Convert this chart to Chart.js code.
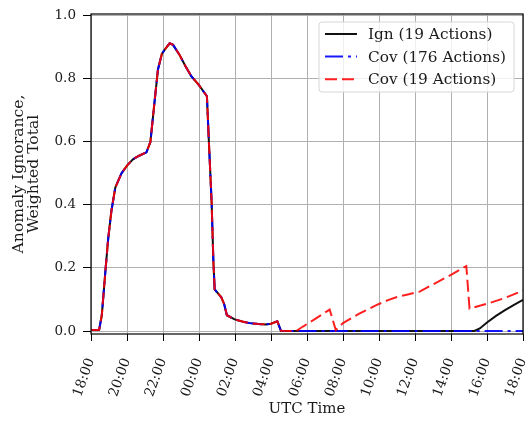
<!DOCTYPE html>
<html>
<head>
<meta charset="utf-8">
<script src="https://cdn.jsdelivr.net/npm/chart.js@4/dist/chart.umd.min.js"></script>
<style>
  html, body { margin: 0; padding: 0; background: #fff; }
  #wrap { width: 532px; height: 421px; position: relative; }
</style>
</head>
<body>
<div id="wrap"><canvas id="c" width="532" height="421"></canvas></div>
<script>
// Hours since 18:00 UTC (x) and weighted totals (y)
const seriesLabels = ['Ign (19 Actions)', 'Cov (176 Actions)', 'Cov (19 Actions)'];
const xTickLabels = ['18:00','20:00','22:00','00:00','02:00','04:00','06:00','08:00','10:00','12:00','14:00','16:00','18:00'];
const yTickValues = [0.0, 0.2, 0.4, 0.6, 0.8, 1.0];

// shared evening/night portion (identical for all three runs)
const sharedTimes  = [0, 0.45, 0.6, 0.8, 0.95, 1.13, 1.35, 1.69, 2.0, 2.33, 2.7, 3.08, 3.3, 3.54, 3.72, 3.94, 4.15, 4.37, 4.56, 4.93, 5.25, 5.58, 6.0, 6.44, 6.55, 6.7, 6.8, 6.87, 7.24, 7.4, 7.55, 7.98, 8.4, 8.82, 9.3, 9.7, 10.0, 10.35, 10.55];
const sharedValues = [0.003, 0.003, 0.05, 0.19, 0.29, 0.38, 0.455, 0.50, 0.525, 0.545, 0.557, 0.567, 0.60, 0.733, 0.83, 0.88, 0.897, 0.913, 0.908, 0.875, 0.84, 0.808, 0.78, 0.745, 0.60, 0.41, 0.22, 0.132, 0.107, 0.085, 0.05, 0.037, 0.03, 0.025, 0.022, 0.021, 0.023, 0.031, 0.001];

// later portions
const ignTimes   = [11.0, 14.0, 17.0, 20.0, 21.3, 21.6, 22.0, 22.5, 23.0, 23.5, 24.0];
const ignValues  = [0.0, 0.0, 0.0, 0.0, 0.0, 0.008, 0.027, 0.048, 0.066, 0.083, 0.099];
const cov176Times  = [11.0, 14.0, 17.0, 20.0, 22.0, 24.0];
const cov176Values = [0.0, 0.0, 0.0, 0.0, 0.0, 0.0];
const cov19Times  = [11.4, 11.8, 12.5, 13.26, 13.6, 14.0, 14.93, 15.85, 16.5, 17.0, 17.6, 18.26, 19.0, 20.0, 20.85, 21.03, 22.1, 23.0, 24.0];
const cov19Values = [0.0, 0.015, 0.04, 0.068, 0.003, 0.025, 0.056, 0.082, 0.098, 0.108, 0.116, 0.125, 0.148, 0.178, 0.206, 0.071, 0.088, 0.105, 0.128];

function pts(t, v) { return t.map((x, i) => ({x: x, y: v[i]})); }

const FONT = "'DejaVu Serif', serif";
const TXT = '#1a1a1a';

const boxPlugin = {
  id: 'frameAndLegend',
  afterDatasetsDraw(chart) {
    const {ctx, chartArea: a} = chart;
    ctx.save();
    ctx.strokeStyle = '#000';
    ctx.lineWidth = 1.2;
    ctx.strokeRect(a.left, a.top, a.right - a.left, a.bottom - a.top);
    ctx.restore();
  },
  afterDraw(chart) {
    const {ctx, chartArea: a} = chart;
    const bx = a.right - 204, by = a.top + 8, bw = 195, bh = 70, r = 3;
    ctx.save();
    ctx.beginPath();
    ctx.moveTo(bx + r, by);
    ctx.arcTo(bx + bw, by, bx + bw, by + bh, r);
    ctx.arcTo(bx + bw, by + bh, bx, by + bh, r);
    ctx.arcTo(bx, by + bh, bx, by, r);
    ctx.arcTo(bx, by, bx + bw, by, r);
    ctx.closePath();
    ctx.fillStyle = 'rgba(255,255,255,0.8)';
    ctx.fill();
    ctx.strokeStyle = '#d6d6d6';
    ctx.lineWidth = 1;
    ctx.stroke();
    const order = [0, 1, 2];
    order.forEach((di, row) => {
      const ds = chart.data.datasets[di];
      const cy = by + 12 + row * 22.6;
      ctx.beginPath();
      ctx.setLineDash(ds.borderDash || []);
      ctx.strokeStyle = ds.borderColor;
      ctx.lineWidth = ds.borderWidth;
      ctx.moveTo(bx + 6, cy);
      ctx.lineTo(bx + 38, cy);
      ctx.stroke();
      ctx.setLineDash([]);
      ctx.fillStyle = TXT;
      ctx.font = "15.3px " + FONT;
      ctx.textBaseline = 'middle';
      ctx.textAlign = 'left';
      ctx.fillText(ds.label, bx + 49, cy + 1);
    });
    ctx.restore();
  }
};

new Chart(document.getElementById('c'), {
  type: 'line',
  data: {
    datasets: [
      { label: seriesLabels[0], data: pts(sharedTimes.concat(ignTimes), sharedValues.concat(ignValues)),
        borderColor: '#111', borderWidth: 2, pointRadius: 0, order: 3, tension: 0 },
      { label: seriesLabels[1], data: pts(sharedTimes.concat(cov176Times), sharedValues.concat(cov176Values)),
        borderColor: 'rgba(0,0,255,0.9)', borderWidth: 2, borderDash: [18, 5, 3, 5], pointRadius: 0, order: 2, tension: 0 },
      { label: seriesLabels[2], data: pts(sharedTimes.concat(cov19Times), sharedValues.concat(cov19Values)),
        borderColor: 'rgba(255,0,0,0.88)', borderWidth: 2, borderDash: [12, 5], pointRadius: 0, order: 1, tension: 0 }
    ]
  },
  options: {
    responsive: false,
    animation: false,
    layout: { padding: { left: 0, top: 14, right: 9, bottom: 0 } },
    plugins: { legend: { display: false }, tooltip: { enabled: false } },
    scales: {
      x: {
        type: 'linear', min: 0, max: 24,
        afterFit(s) { s.height = 87; s.paddingLeft = 0; s.paddingRight = 0; },
        afterBuildTicks(s) { s.ticks = xTickLabels.map((_, i) => ({ value: i * 2 })); },
        ticks: {
          autoSkip: false, minRotation: 70, maxRotation: 70, padding: 15, color: TXT,
          font: { family: FONT, size: 13.8 },
          callback: (v, i) => xTickLabels[i]
        },
        grid: { color: '#b0b0b0', lineWidth: 1, tickColor: '#000', tickLength: 7 },
        border: { display: false },
        title: { display: true, text: 'UTC Time', color: TXT, font: { family: FONT, size: 15 }, padding: { top: 0, bottom: 3 } }
      },
      y: {
        type: 'linear', min: -0.0095, max: 1.006,
        afterFit(s) { s.width = 91; s.paddingTop = 0; s.paddingBottom = 0; },
        afterBuildTicks(s) { s.ticks = yTickValues.map(v => ({ value: v })); },
        ticks: {
          padding: 7, color: TXT, font: { family: FONT, size: 13.5 },
          callback: (v) => v.toFixed(1)
        },
        grid: { color: '#b0b0b0', lineWidth: 1, tickColor: '#000', tickLength: 8 },
        border: { display: false },
        title: { display: true, text: ['Anomaly Ignorance,', 'Weighted Total'], color: TXT, font: { family: FONT, size: 15.6, lineHeight: 1.0 }, padding: { top: 11, bottom: 0 } }
      }
    }
  },
  plugins: [boxPlugin]
});
</script>
</body>
</html>
